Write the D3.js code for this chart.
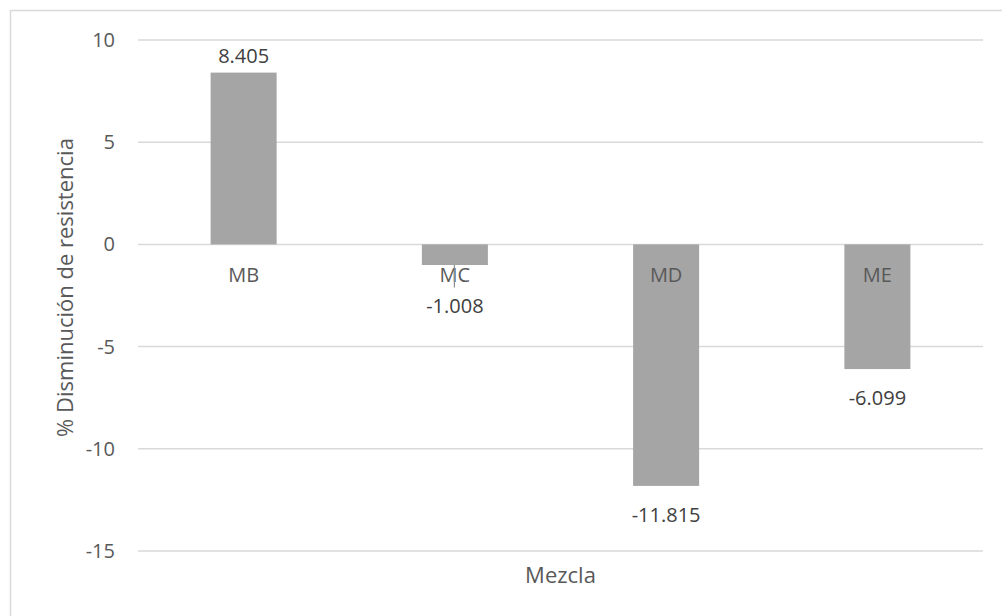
<!DOCTYPE html>
<html>
<head>
<meta charset="utf-8">
<script src="https://cdn.jsdelivr.net/npm/d3@7"></script>
<style>
  html, body { margin: 0; padding: 0; background: #fff; }
  svg { display: block; font-family: "Open Sans", "Segoe UI", sans-serif; }
</style>
</head>
<body>
<svg id="chart" width="1002" height="616"></svg>
<script>
// Mixtures and their % strength reduction
const categories = ["MB", "MC", "MD", "ME"];
const values = [8.405, -1.008, -11.815, -6.099];
const yTicks = [10, 5, 0, -5, -10, -15];
const yTitle = "% Disminución de resistencia";
const xTitle = "Mezcla";

const svg = d3.select("#chart");
const W = 1002, H = 616;

// Chart frame (extends past the right and bottom edges)
svg.append("rect")
  .attr("x", 10.5).attr("y", 10.5)
  .attr("width", 1010).attr("height", 630)
  .attr("fill", "#fff")
  .attr("stroke", "#d9d9d9").attr("stroke-width", 1.5);

const plot = { left: 138, right: 983, top: 40, bottom: 551 };

const y = d3.scaleLinear().domain([-15, 10]).range([plot.bottom, plot.top]);
const x = d3.scaleBand().domain(categories)
  .range([plot.left, plot.right])
  .paddingInner(0.6875).paddingOuter(0.34375);

// Gridlines
svg.append("g").selectAll("line").data(yTicks).join("line")
  .attr("x1", plot.left).attr("x2", plot.right)
  .attr("y1", d => y(d)).attr("y2", d => y(d))
  .attr("stroke", "#d9d9d9").attr("stroke-width", 1.5);

// Y tick labels
svg.append("g").selectAll("text").data(yTicks).join("text")
  .attr("x", 115).attr("y", d => y(d))
  .attr("dy", "0.35em")
  .attr("text-anchor", "end")
  .attr("font-size", 20).attr("fill", "#595959")
  .text(d => d);

// Bars
svg.append("g").selectAll("rect").data(categories).join("rect")
  .attr("x", d => x(d))
  .attr("width", x.bandwidth())
  .attr("y", (d, i) => y(Math.max(0, values[i])))
  .attr("height", (d, i) => Math.abs(y(values[i]) - y(0)))
  .attr("fill", "#a5a5a5");

// Category labels just below the zero line
const catBaseline = y(0) + 38;
svg.append("g").selectAll("text").data(categories).join("text")
  .attr("x", d => x(d) + x.bandwidth() / 2)
  .attr("y", catBaseline)
  .attr("text-anchor", "middle")
  .attr("font-size", 20).attr("fill", "#595959")
  .text(d => d);

// Data labels; negative labels are pushed below the category labels when needed
const labelPos = values.map(v => {
  if (v >= 0) return { y: y(v) - 10, leader: false };
  const natural = y(v) + 36;
  const minY = catBaseline + 31;
  return natural < minY ? { y: minY, leader: true } : { y: natural, leader: false };
});

svg.append("g").selectAll("line").data(categories.filter((d, i) => labelPos[i].leader)).join("line")
  .attr("x1", d => x(d) + x.bandwidth() / 2 - 0.5)
  .attr("x2", d => x(d) + x.bandwidth() / 2 - 0.5)
  .attr("y1", d => y(values[categories.indexOf(d)]))
  .attr("y2", d => catBaseline + 5)
  .attr("stroke", "#8c8c8c").attr("stroke-width", 1.2);

svg.append("g").selectAll("text").data(categories).join("text")
  .attr("x", d => x(d) + x.bandwidth() / 2)
  .attr("y", (d, i) => labelPos[i].y)
  .attr("text-anchor", "middle")
  .attr("font-size", 20).attr("fill", "#404040")
  .text((d, i) => values[i].toFixed(3));

// Axis titles
svg.append("text")
  .attr("transform", `translate(73, ${(plot.top + plot.bottom) / 2 - 8}) rotate(-90)`)
  .attr("text-anchor", "middle")
  .attr("font-size", 22).attr("fill", "#595959")
  .text(yTitle);

svg.append("text")
  .attr("x", (plot.left + plot.right) / 2)
  .attr("y", 583)
  .attr("text-anchor", "middle")
  .attr("font-size", 22).attr("fill", "#595959")
  .text(xTitle);
</script>
</body>
</html>
